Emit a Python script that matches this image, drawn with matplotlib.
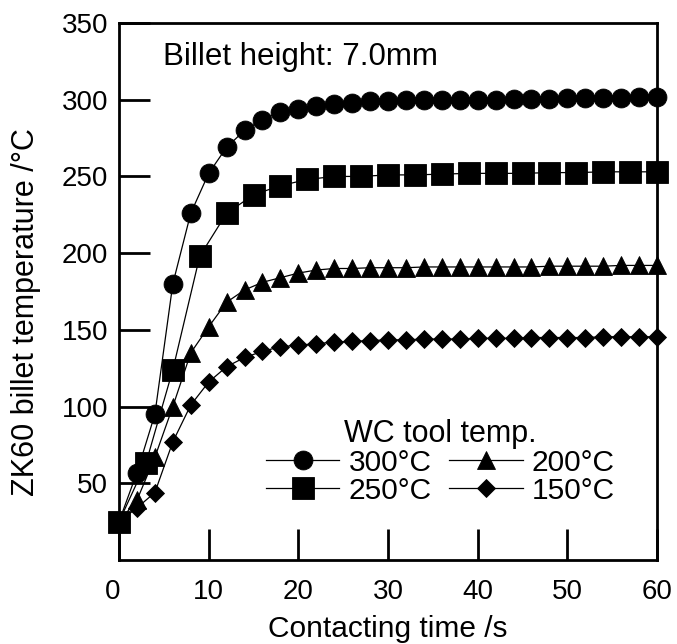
import matplotlib
matplotlib.use("Agg")
import matplotlib.pyplot as plt
from matplotlib.transforms import ScaledTranslation

plt.rcParams['font.family'] = ['Liberation Sans', 'DejaVu Sans']

# Contacting time (s) for each tool temperature
t_300 = [0, 2, 4, 6, 8, 10, 12, 14, 16, 18, 20, 22, 24, 26, 28, 30, 32, 34, 36, 38,
         40, 42, 44, 46, 48, 50, 52, 54, 56, 58, 60]
T_300 = [25, 57, 95, 180, 226, 252, 269, 280, 287, 292, 294, 296, 297, 298, 299, 299,
         299.5, 300, 300, 300, 300, 300, 300.5, 300.5, 300.5, 301, 301, 301, 301, 301.5, 302]

t_250 = [0, 3, 6, 9, 12, 15, 18, 21, 24, 27, 30, 33, 36, 39, 42, 45, 48, 51, 54, 57, 60]
T_250 = [25, 63, 124, 198, 226, 238, 244, 248, 250, 250, 251, 251, 251.5, 252, 252,
         252, 252.5, 252.5, 253, 253, 253]

t_200 = t_300
T_200 = [25, 39, 67, 100, 135, 152, 168, 176, 181, 184, 187, 189, 190, 190, 190.5, 190.5,
         190.5, 191, 191, 191, 191, 191, 191, 191, 191.5, 191.5, 191.5, 191.5, 192, 192, 192]

t_150 = t_300
T_150 = [25, 34, 44, 77, 101, 116, 126, 132, 136, 139, 140, 141, 142, 142.5, 143, 143.5,
         143.5, 144, 144, 144, 144.5, 144.5, 144.5, 145, 145, 145, 145, 145.5, 145.5, 145.5, 145.5]

labels = ['300°C', '250°C', '200°C', '150°C']
x_ticks = [0, 10, 20, 30, 40, 50, 60]
y_ticks = [50, 100, 150, 200, 250, 300, 350]

fig = plt.figure(figsize=(6.77, 6.44), dpi=100)
ax = fig.add_axes([0.1758, 0.1304, 0.9705 - 0.1758, 0.9643 - 0.1304])

style = dict(color='black', lw=0.9, mew=0.6, clip_on=False, zorder=3)
ax.plot(t_300, T_300, '-o', ms=13.6, label=labels[0], **style)
ax.plot(t_250, T_250, '-s', ms=16.5, label=labels[1], **style)
ax.plot(t_200, T_200, '-^', ms=12.5, label=labels[2], **style)
ax.plot(t_150, T_150, '-D', ms=9.0, label=labels[3], **style)

ax.set_xlim(0, 60)
ax.set_ylim(0, 350)
ax.set_xticks(x_ticks)
ax.set_yticks(y_ticks)
ax.tick_params(direction='in', length=22, width=2.0, labelsize=20)
ax.tick_params(axis='x', pad=14)
ax.tick_params(axis='y', pad=8)
for s in ax.spines.values():
    s.set_linewidth(2.0)

# nudge the origin label a little to the left
first = ax.get_xticklabels()[0]
first.set_transform(first.get_transform() + ScaledTranslation(-6 / 100, 0, fig.dpi_scale_trans))

ax.set_xlabel('Contacting time /s', fontsize=21.5, labelpad=7)
ax.set_ylabel('ZK60 billet temperature /°C', fontsize=22)
ax.yaxis.set_label_coords(-0.145, 0.462)

ax.text(0.082, 0.937, 'Billet height: 7.0mm', transform=ax.transAxes,
        fontsize=22.5, ha='left', va='center')

leg = ax.legend(ncol=2, title='WC tool temp.', frameon=False, fontsize=21.5,
                title_fontsize=22, loc='lower right', bbox_to_anchor=(0.949, 0.075),
                handlelength=2.45, handletextpad=0.3, columnspacing=0.6,
                labelspacing=0.0, borderpad=0.0)

fig.savefig('out.png', dpi=100)
